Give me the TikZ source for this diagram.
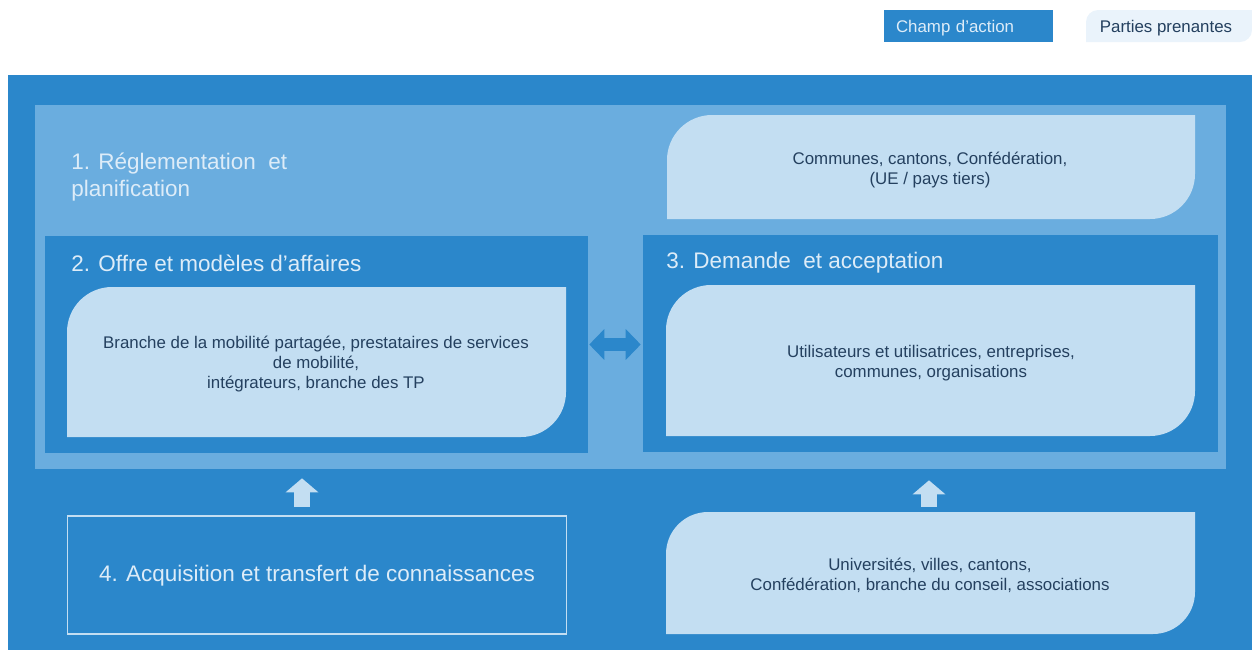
\documentclass[tikz,border=0pt]{standalone}
\usepackage{fontspec}
\setmainfont{Liberation Sans}
\usetikzlibrary{arrows.meta,calc}

\definecolor{champ}{HTML}{2B87CB}
\definecolor{cadre}{HTML}{6AADDF}
\definecolor{partie}{HTML}{C3DEF2}
\definecolor{legende}{HTML}{EAF3FB}
\definecolor{clair}{HTML}{DDECF8}
\definecolor{encre}{HTML}{24405F}

% leaf box: x1, y1 (top), x2, y2 (bottom), radius, colour
\newcommand{\feuille}[6]{%
	\fill [#6] (#1,#4) -- ($(#1,#2)+(0,#5)$) arc [start angle=180, end angle=90, radius=#5*0.02cm] -- (#3,#2) -- ($(#3,#4)-(0,#5)$) arc [start angle=0, end angle=-90, radius=#5*0.02cm] -- cycle;}

\begin{document}
\begin{tikzpicture}[x=0.02cm, y=-0.02cm,
		titre/.style={text=clair, font=\fontsize{12.8}{15.6}\selectfont, anchor=west, align=left, inner sep=0pt},
		acteur/.style={text=encre, font=\fontsize{9.6}{11.6}\selectfont, align=center, inner sep=0pt},
		bloc/.style={fill=champ, inner sep=0pt, minimum height=4.34cm},
		montee/.style={draw=partie, line width=0.32cm, -{Triangle[width=0.64cm, length=0.28cm]}},
		echange/.style={draw=champ, line width=0.26cm, {Triangle[width=0.6cm, length=0.3cm]}-{Triangle[width=0.6cm, length=0.3cm]}}]
	\useasboundingbox (0,0) rectangle (1252,650);
	% legend
	\node [fill=champ, text=clair, font=\fontsize{9.6}{11.6}\selectfont, text width=2.9cm, align=left, inner xsep=0.24cm, inner ysep=0pt, text height=0.72em, text depth=0pt, minimum height=0.64cm] (legchamp) at (968.5,26) {Champ d’action};
	\feuille{1086}{10}{1252}{42}{12}{legende}
	\node [acteur] (legparties) at (1166,28) {Parties prenantes};
	% the big blue field and the lighter frame
	\fill [champ] (8,75) rectangle (1252,650);
	\node [fill=cadre, inner sep=0pt, minimum width=23.82cm, minimum height=7.28cm] (cadre) at (630.5,287) {};
	\node [titre] (reglement) at (71,177) {1. Réglementation\ \ et\\planification};
	\feuille{667}{115}{1195}{219}{45}{partie}
	\node [acteur] (autorites) at (930,170) {Communes, cantons, Confédération,\\(UE / pays tiers)};
	% offer and demand
	\node [bloc, minimum width=10.86cm] (offre) at (316.5,344.5) {};
	\node [bloc, minimum width=11.5cm] (demande) at (930.5,343.5) {};
	\node [titre] (titreoffre) at (71,263) {2. Offre et modèles d’affaires};
	\node [titre] (titredemande) at (666,263) {3. Demande\ \ et acceptation};
	\feuille{67}{287}{566}{437}{45}{partie}
	\feuille{666}{285}{1195}{436}{45}{partie}
	\node [acteur] (branche) at (316,364) {Branche de la mobilité partagée, prestataires de services\\de mobilité,\\intégrateurs, branche des TP};
	\node [acteur] (usagers) at (931,363) {Utilisateurs et utilisatrices, entreprises,\\communes, organisations};
	% knowledge row
	\node [draw=partie, line width=0.6pt, minimum width=10cm, minimum height=2.36cm, text height=0.72em, text depth=0pt, text=clair, font=\fontsize{12.8}{15.6}\selectfont] (savoir) at (317,575) {4. Acquisition et transfert de connaissances};
	\feuille{666}{512}{1195}{634}{42}{partie}
	\node [acteur] (hautes) at (930,575.5) {Universités, villes, cantons,\\Confédération, branche du conseil, associations};
	\coordinate (pied) at (929,512);
	\coordinate (savoirhaut) at (302,516);
	% arrows
	\draw [echange, shorten <=0.02cm, shorten >=0.04cm] (offre.east) -- (offre.east -| demande.west);
	\draw [montee, shorten <=0.18cm, shorten >=0.18cm] (savoirhaut) -- (savoirhaut |- cadre.south);
	\draw [montee, shorten <=0.1cm, shorten >=0.22cm] (pied) -- (pied |- cadre.south);
\end{tikzpicture}
\end{document}
